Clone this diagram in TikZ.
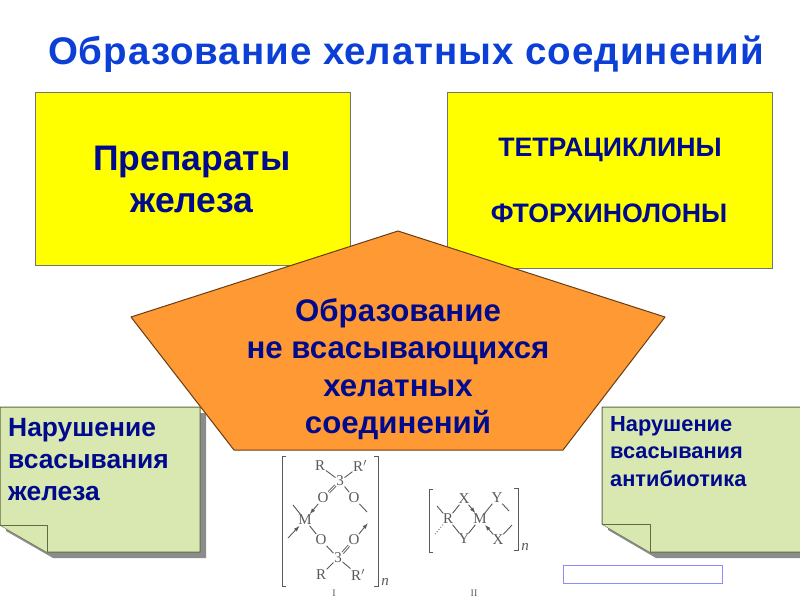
\documentclass[tikz,border=0pt]{standalone}
\usepackage{fontspec}
\setmainfont{Liberation Sans}
\newfontfamily\chemfont{Liberation Serif}
\newfontfamily\titlefont[LetterSpace=2.5]{Liberation Sans}
\usetikzlibrary{arrows.meta, positioning}
\definecolor{titleBlue}{HTML}{0B3FD6}
\definecolor{textNavy}{HTML}{000A8C}
\definecolor{boxYellow}{HTML}{FFFF00}
\definecolor{shapeOrange}{HTML}{FF9933}
\definecolor{noteGreen}{HTML}{D9E7B1}
\definecolor{noteEdge}{HTML}{5F6B45}
\definecolor{chemGray}{HTML}{5A5A5A}
\begin{document}
\begin{tikzpicture}[x=1pt, y=-1pt,
    yellowbox/.style={rectangle, draw=black!55, line width=0.5pt, fill=boxYellow,
                 anchor=north west, inner sep=0pt},
    notetext/.style={anchor=north west, align=left, inner sep=0pt, text=textNavy},
    note/.style={fill=noteGreen, draw=noteEdge, line width=1pt, line join=round},
    noteshadow/.style={fill=black!45},
    atom/.style={inner sep=0.6pt, text=chemGray, font=\chemfont\fontsize{15}{15}\selectfont},
    bond/.style={draw=chemGray, line width=0.9pt},
    bondarrow/.style={bond, -{Latex[length=6pt,width=4pt]}},
    bracket/.style={draw=chemGray, line width=1pt},
  ]
    \useasboundingbox (0,0) rectangle (800,600);
    \fill[white] (0,0) rectangle (800,600);

    \node[text=titleBlue, font=\titlefont\bfseries\fontsize{38.5}{38.5}\selectfont] (title) at (406,54)
      {Образование хелатных соединений};

    \node[yellowbox, minimum width=315pt, minimum height=173pt] (iron) at (35,92) {};
    \node[align=center, inner sep=0pt, text=textNavy, font=\bfseries\fontsize{35.5}{42}\selectfont] (ironText) at (192,179)
      {Препараты\\железа};
    \node[yellowbox, minimum width=325pt, minimum height=176pt] (drugs) at (447,92) {};
    \node[text=textNavy, font=\bfseries\fontsize{26.7}{26.7}\selectfont] (tetra) at (610,150) {ТЕТРАЦИКЛИНЫ};
    \node[text=textNavy, font=\bfseries\fontsize{26.7}{26.7}\selectfont] (fluoro) at (609,213) {ФТОРХИНОЛОНЫ};

    % notes
    \fill[noteshadow] (6,413) -- (206,413) -- (206,558) -- (53,558) -- (6,531) -- cycle;
    \draw[note] (0,407) -- (200,407) -- (200,552) -- (47,552) -- (0,525) -- cycle;
    \draw[note] (0,525) -- (47,525) -- (47,552);
    \node[notetext, font=\bfseries\fontsize{26.4}{32}\selectfont] (noteIron) at (8,418)
      {Нарушение\\всасывания\\железа};

    \fill[noteshadow] (608,413) -- (810,413) -- (810,558) -- (656,558) -- (608,530) -- cycle;
    \draw[note] (602,407) -- (810,407) -- (810,552) -- (650,552) -- (602,524) -- cycle;
    \draw[note] (602,524) -- (650,524) -- (650,552);
    \node[notetext, font=\bfseries\fontsize{21.8}{27.5}\selectfont] (noteAntibiotic) at (610,416)
      {Нарушение\\всасывания\\антибиотика};

    % centre
    \fill[white] (275,451) rectangle (535,600);
    \draw[fill=shapeOrange, draw=black!60!shapeOrange, line width=1pt, line join=round]
      (398,231) -- (665,317) -- (563,450) -- (234,450) -- (131,317) -- cycle;
    \node[align=center, inner sep=0pt, text=textNavy, font=\bfseries\fontsize{31.2}{37.5}\selectfont] (chelate) at (398,369)
      {Образование\\не всасывающихся\\хелатных\\соединений};

    \node[draw=blue!45!white, line width=1pt, fill=white, minimum width=159pt, minimum height=18pt,
          inner sep=0pt, anchor=north west] (blank) at (563,565) {};

    % formula I
    \node[atom] (r1) at (320,466) {R};
    \node[atom] (r2) at (360,466) {R$'$};
    \node[atom] (c1) at (340,481) {3};
    \node[atom] (o1) at (323,498) {O};
    \node[atom] (o2) at (354,498) {O};
    \node[atom] (m1) at (305,520) {M};
    \node[atom] (o3) at (321,540) {O};
    \node[atom] (o4) at (354,540) {O};
    \node[atom] (c2) at (338,558) {3};
    \node[atom] (r3) at (321,575) {R};
    \node[atom] (r4) at (358,575) {R$'$};
    \node[atom] (n1) at (385,582) {\itshape n};
    \node[atom, font=\chemfont\fontsize{10}{10}\selectfont] (lab1) at (334,593) {I};
    \coordinate (f1) at (367,512);
    \coordinate (f2) at (293,505);
    \coordinate (f3) at (288,538);
    \coordinate (f4) at (368,523);
    \foreach \a/\b in {r1/c1, r2/c1, c1/o2, o2/f1, f2/m1, m1/o3, o3/c2, c2/r3, c2/r4}
      \draw[bond] (\a) -- (\b);
    \draw[bond, double, double distance=1pt] (c1) -- (o1);
    \draw[bond, double, double distance=1pt] (c2) -- (o4);
    \draw[bondarrow] (o1) -- (m1);
    \draw[bondarrow] (f3) -- (m1);
    \draw[bondarrow] (o4) -- (f4);
    \draw[bracket] (286,456) -- (282,456) -- (282,586) -- (286,586);
    \draw[bracket] (374,456) -- (378,456) -- (378,586) -- (374,586);

    % formula II
    \node[atom] (r5) at (448,519) {R};
    \node[atom] (x1) at (464,499) {X};
    \node[atom] (m2) at (480,519) {M};
    \node[atom] (y1) at (497,498) {Y};
    \node[atom] (y2) at (464,539) {Y};
    \node[atom] (x2) at (498,540) {X};
    \node[atom] (n2) at (525,547) {\itshape n};
    \node[atom, font=\chemfont\fontsize{10}{10}\selectfont] (lab2) at (474,593) {II};
    \coordinate (f5) at (437,506);
    \coordinate (f6) at (509,511);
    \coordinate (f7) at (435,534);
    \coordinate (f8) at (512,525);
    \foreach \a/\b in {f5/r5, r5/x1, m2/y1, y1/f6, r5/y2, y2/m2, x2/f8}
      \draw[bond] (\a) -- (\b);
    \draw[bond, dotted] (r5) -- (f7);
    \draw[bondarrow] (x1) -- (m2);
    \draw[bondarrow] (x2) -- (m2);
    \draw[bracket] (433,489) -- (429,489) -- (429,552) -- (433,552);
    \draw[bracket] (514,488) -- (518,488) -- (518,550) -- (514,550);
  \end{tikzpicture}
\end{document}
